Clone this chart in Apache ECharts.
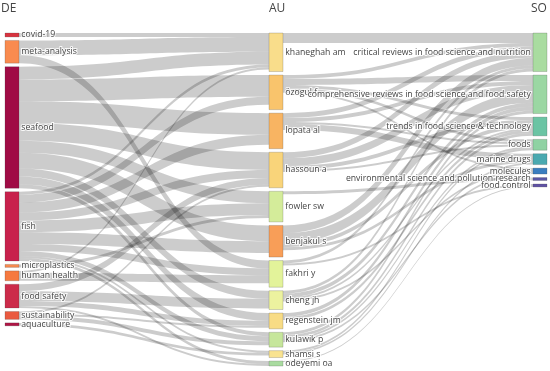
<!DOCTYPE html>
<html><head><meta charset="utf-8">
<script src="https://cdn.jsdelivr.net/npm/echarts@6/dist/echarts.min.js"></script>
<style>html,body{margin:0;padding:0;background:#fff}#c{width:550px;height:371px}</style>
</head><body><div id="c"></div>
<script>
// ---- data ----
const fieldTitles = ['DE', 'AU', 'SO'];
const keywords = ['covid-19','meta-analysis','seafood','fish','microplastics','human health','food safety','sustainability','aquaculture'];
const authors = ['khaneghah am','özogul f','lopata al','hassoun a','fowler sw','benjakul s','fakhri y','cheng jh','regenstein jm','kulawik p','shamsi s','odeyemi oa'];
const sources = ['critical reviews in food science and nutrition','comprehensive reviews in food science and food safety','trends in food science & technology','foods','marine drugs','molecules','environmental science and pollution research','food control'];
const authorTotals = [39,35,36,36,31,32,27,19,16,15,7,5];
const keywordToAuthor = [
  ['covid-19','khaneghah am',4],
  ['meta-analysis','khaneghah am',15],['meta-analysis','fakhri y',8],
  ['seafood','khaneghah am',13],['seafood','özogul f',22],['seafood','lopata al',22],['seafood','hassoun a',18],['seafood','fowler sw',12],['seafood','benjakul s',16],['seafood','cheng jh',8],['seafood','regenstein jm',8],['seafood','kulawik p',4],
  ['fish','khaneghah am',3],['fish','özogul f',8],['fish','lopata al',10],['fish','hassoun a',8],['fish','fowler sw',12],['fish','benjakul s',12],['fish','fakhri y',7],['fish','kulawik p',5],['fish','shamsi s',2],['fish','odeyemi oa',3],
  ['microplastics','fowler sw',3],
  ['human health','khaneghah am',2],['human health','fakhri y',8],
  ['food safety','hassoun a',7],['food safety','cheng jh',10],['food safety','regenstein jm',5],['food safety','odeyemi oa',2],
  ['sustainability','hassoun a',2],['sustainability','regenstein jm',2],['sustainability','kulawik p',4],
  ['aquaculture','shamsi s',3]
];
const authorToSource = [
  ['khaneghah am','critical reviews in food science and nutrition',10],
  ['özogul f','critical reviews in food science and nutrition',4],['özogul f','comprehensive reviews in food science and food safety',6],['özogul f','trends in food science & technology',3],['özogul f','foods',3],['özogul f','molecules',2],
  ['lopata al','critical reviews in food science and nutrition',5],['lopata al','comprehensive reviews in food science and food safety',4],['lopata al','foods',2],['lopata al','marine drugs',6],
  ['hassoun a','critical reviews in food science and nutrition',6],['hassoun a','comprehensive reviews in food science and food safety',8],['hassoun a','trends in food science & technology',4],['hassoun a','foods',2],
  ['fowler sw','environmental science and pollution research',3],
  ['benjakul s','critical reviews in food science and nutrition',8],['benjakul s','comprehensive reviews in food science and food safety',10],['benjakul s','trends in food science & technology',4],['benjakul s','marine drugs',3],
  ['fakhri y','critical reviews in food science and nutrition',3],['fakhri y','food control',2],
  ['cheng jh','critical reviews in food science and nutrition',3],['cheng jh','comprehensive reviews in food science and food safety',4],['cheng jh','trends in food science & technology',2],['cheng jh','molecules',2],
  ['regenstein jm','comprehensive reviews in food science and food safety',4],['regenstein jm','trends in food science & technology',3],
  ['kulawik p','comprehensive reviews in food science and food safety',3],['kulawik p','trends in food science & technology',3],['kulawik p','foods',2],['kulawik p','molecules',2],
  ['shamsi s','foods',2],['shamsi s','marine drugs',2],
  ['odeyemi oa','food control',1]
];

// ---- styles ----
const keywordColors = ['#d8333f','#f98b4f','#a00b45','#c8214c','#f88a4f','#f6793f','#cc2b4a','#ea5a40','#b01545'];
const authorColors = ['#f9dd8b','#f9c46c','#f8b462','#f9d47a','#d4ec9a','#f89e58','#e3f39a','#ecf29f','#f8dc85','#c6e69b','#f9e390','#a9dba0'];
const sourceColors = ['#a9dca0','#9bd7a3','#6bc4a4','#8fd2a3','#4aa9b0','#3a7dbf','#5b57a6','#6052a4'];

const border = {borderColor: 'rgba(68,68,68,0.45)', borderWidth: 0.5};
const nodes = [];
keywords.forEach((n, i) => nodes.push({name: n, itemStyle: Object.assign({color: keywordColors[i]}, border)}));
authors.forEach((n, i) => nodes.push({name: n, value: authorTotals[i], itemStyle: Object.assign({color: authorColors[i]}, border)}));
sources.forEach((n, i) => nodes.push({name: n, itemStyle: Object.assign({color: sourceColors[i]}, border), label: {position: 'left'}}));
const links = keywordToAuthor.concat(authorToSource).map(l => ({source: l[0], target: l[1], value: l[2]}));

const chart = echarts.init(document.getElementById('c'), null, {renderer: 'canvas'});
const font = '"Open Sans", sans-serif';
chart.setOption({
  animation: false,
  graphic: [
    {type: 'text', left: 1, top: 3, style: {text: fieldTitles[0], font: '12px ' + font, fill: '#444'}},
    {type: 'text', left: 269, top: 3, style: {text: fieldTitles[1], font: '12px ' + font, fill: '#444'}},
    {type: 'text', left: 531, top: 3, style: {text: fieldTitles[2], font: '12px ' + font, fill: '#444'}}
  ],
  series: [{
    type: 'sankey',
    left: 5, right: 3, top: 33, bottom: 5,
    nodeWidth: 14,
    nodeGap: 3.5,
    layoutIterations: 0,
    nodeAlign: 'justify',
    draggable: false,
    emphasis: {disabled: true},
    data: nodes,
    links: links,
    label: {
      show: true, position: 'right', distance: 2,
      fontFamily: font, fontSize: 8.7, color: '#444',
      textBorderColor: 'rgba(255,255,255,0.85)', textBorderWidth: 2
    },
    lineStyle: {color: '#000', opacity: 0.2, curveness: 0.5}
  }]
});
</script>
</body></html>
